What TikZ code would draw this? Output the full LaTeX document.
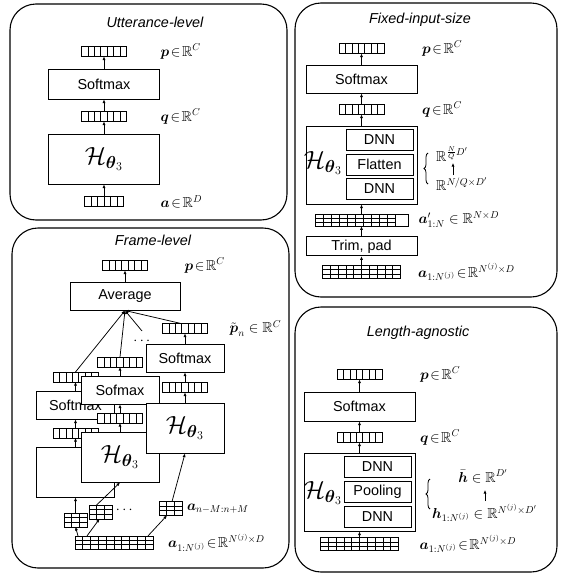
\documentclass[tikz,border=0pt]{standalone}
\usepackage{amsmath,amssymb}
\usepackage[no-math]{fontspec}
\setmainfont{Liberation Sans}
\usetikzlibrary{arrows.meta,positioning,decorations.pathreplacing}
\newcommand{\Hnet}{\mathcal{H}_{\boldsymbol{\theta}_3}}
\tikzset{
  panel/.style={draw, line width=1.1pt, rounded corners=26pt},
  paneltitle/.style={font=\fontsize{14.4}{17}\selectfont\itshape},
  layerbox/.style={draw, fill=white, line width=1pt, inner sep=0pt, minimum width=111pt},
  framebox/.style={layerbox, minimum width=78pt},
  innerbox/.style={draw, fill=white, line width=1pt, inner sep=0pt,
    minimum width=67pt, minimum height=21pt},
  netlabel/.style={font=\fontsize{24}{28}\selectfont, inner sep=0pt},
  cellvec/.style n args={4}{draw, fill=white, line width=0.8pt, inner sep=0pt, outer sep=0pt,
    minimum width=#1*#3, minimum height=#2*#4,
    path picture={
      \foreach \i in {1,...,#1}
        \draw[line width=0.8pt] ([xshift=\i*#3]path picture bounding box.south west)
          -- ([xshift=\i*#3]path picture bounding box.north west);
      \foreach \j in {1,...,#2}
        \draw[line width=0.8pt] ([yshift=\j*#4]path picture bounding box.south west)
          -- ([yshift=\j*#4]path picture bounding box.south east);
    }},
  vec/.style={cellvec={7}{1}{6.4pt}{10pt}},
  shortvec/.style={cellvec={6}{1}{6.5pt}{10pt}},
  seqgrid/.style={cellvec={10}{3}{7.8pt}{4.4pt}},
  wingrid/.style={cellvec={3}{3}{7.6pt}{4.6pt}},
  padgrid/.style={draw, fill=white, line width=0.8pt, inner sep=0pt,
    minimum width=93pt, minimum height=12pt,
    path picture={
      \foreach \i in {1,...,10}
        \draw[line width=0.8pt] ([xshift=\i*8pt]path picture bounding box.south west)
          -- ([xshift=\i*8pt]path picture bounding box.north west);
      \foreach \j in {1,2}
        \draw[line width=0.8pt] ([yshift=\j*4pt]path picture bounding box.south west)
          -- ([xshift=80pt, yshift=\j*4pt]path picture bounding box.south west);
    }},
  arr/.style={-{Latex[length=3.6pt, width=3.2pt]}, line width=0.75pt},
  dimlabel/.style={anchor=west, inner sep=0pt},
  bracket/.style={decorate, decoration={brace, amplitude=4pt}, line width=0.8pt}
}

\begin{document}
\begin{tikzpicture}[x=1pt, y=-1pt, font=\fontsize{14.4}{17}\selectfont]
  \useasboundingbox (0,0) rectangle (568,576);

  % Utterance-level
  \draw[panel] (10,4) rectangle (287,220);
  \node[paneltitle] (t1) at (155,22) {Utterance-level};
  \node[layerbox, minimum height=50pt, netlabel] (H1) at (104,159) {$\Hnet$};
  \node[vec, above=12pt of H1] (q1) {};
  \node[layerbox, minimum height=30pt, above=12pt of q1] (sm1) {Softmax};
  \node[vec, above=12pt of sm1] (p1) {};
  \node[shortvec, below=12pt of H1] (a1) {};
  \draw[arr] (a1) -- (H1);
  \draw[arr] (H1) -- (q1);
  \draw[arr] (q1) -- (sm1);
  \draw[arr] (sm1) -- (p1);
  \node[dimlabel, right=34pt of p1] (p1l) {$\boldsymbol{p}\!\in\!\mathbb{R}^C$};
  \node[dimlabel, right=34pt of q1] (q1l) {$\boldsymbol{q}\!\in\!\mathbb{R}^C$};
  \node[dimlabel, right=37pt of a1] (a1l) {$\boldsymbol{a}\!\in\!\mathbb{R}^D$};

  % Fixed-input-size
  \draw[panel] (295,3) rectangle (557,297);
  \node[paneltitle] (t2) at (420,20) {Fixed-input-size};
  \node[layerbox, minimum height=78pt] (H2) at (361.5,165) {};
  \node[innerbox] (fl2) at (379.5,164.5) {Flatten};
  \node[innerbox, above=2.5pt of fl2] (dnn2a) {DNN};
  \node[innerbox, below=2.5pt of fl2] (dnn2b) {DNN};
  \node[netlabel] (h2) at (323,163) {$\Hnet$};
  \node[vec, above=11pt of H2] (q2) {};
  \node[layerbox, minimum height=28pt, above=11pt of q2] (sm2) {Softmax};
  \node[vec, above=11pt of sm2] (p2) {};
  \node[padgrid, below=9pt of H2] (ap2) {};
  \node[layerbox, minimum height=19pt, below=10pt of ap2] (tp2) {Trim, pad};
  \node[seqgrid, below=9pt of tp2] (a2) {};
  \draw[arr] (a2) -- (tp2);
  \draw[arr] (tp2) -- (ap2);
  \draw[arr] (ap2) -- (H2);
  \draw[arr] (H2) -- (q2);
  \draw[arr] (q2) -- (sm2);
  \draw[arr] (sm2) -- (p2);
  \node[dimlabel, right=38pt of p2] (p2l) {$\boldsymbol{p}\!\in\!\mathbb{R}^C$};
  \node[dimlabel, right=38pt of q2] (q2l) {$\boldsymbol{q}\!\in\!\mathbb{R}^C$};
  \node[dimlabel, right=10pt of ap2] (ap2l) {$\boldsymbol{a}'_{1:N} \in \mathbb{R}^{N\times D}$};
  \node[dimlabel, right=17.5pt of a2] (a2l) {$\boldsymbol{a}_{1:N^{(j)}}\!\in\!\mathbb{R}^{N^{(j)}\times D}$};
  \draw[bracket] (428,184) -- (428,153);
  \node[dimlabel] (r2a) at (436,154) {$\mathbb{R}^{\frac{N}{Q}D'}$};
  \node[dimlabel] (r2b) at (436,184) {$\mathbb{R}^{N/Q\times D'}$};
  \coordinate (lo2) at (453,175);
  \coordinate (up2) at (453,163);
  \draw[arr] (lo2) -- (up2);

  % Frame-level
  \draw[panel] (12,228) rectangle (289,568);
  \node[paneltitle] (t3) at (153,240) {Frame-level};
  \node[framebox, minimum width=110pt, minimum height=28pt] (avg) at (125,296) {Average};
  \node[vec, above=11pt of avg] (p3) {};
  \draw[arr] (avg) -- (p3);
  \node[dimlabel, right=37pt of p3] (p3l) {$\boldsymbol{p}\!\in\!\mathbb{R}^C$};

  \node[framebox, minimum height=50pt] (Hl) at (75.5,472) {};
  \node[vec, above=8.5pt of Hl] (ql) {};
  \node[framebox, minimum height=28pt, above=8.5pt of ql] (sml) {Softmax};
  \node[vec, above=8.5pt of sml] (tvl) {};
  \draw[arr] (Hl) -- (ql);
  \draw[arr] (ql) -- (sml);
  \draw[arr] (sml) -- (tvl);

  \node[framebox, minimum height=50pt, netlabel] (Hm) at (120,457) {$\Hnet$};
  \node[vec, above=8.5pt of Hm] (qm) {};
  \node[framebox, minimum height=28pt, above=8.5pt of qm] (smm) {Sofmax};
  \node[vec, above=8.5pt of smm] (tvm) {};
  \draw[arr] (Hm) -- (qm);
  \draw[arr] (qm) -- (smm);
  \draw[arr] (smm) -- (tvm);

  \node[framebox, minimum height=50pt, netlabel] (Hr) at (185,428) {$\Hnet$};
  \node[vec, above=10pt of Hr] (qr) {};
  \node[framebox, minimum height=28pt, above=10pt of qr] (smr) {Softmax};
  \node[vec, above=10pt of smr] (tvr) {};
  \draw[arr] (Hr) -- (qr);
  \draw[arr] (qr) -- (smr);
  \draw[arr] (smr) -- (tvr);
  \node[dimlabel, right=22pt of tvr] (tvrl) {$\tilde{\boldsymbol{p}}_n \in \mathbb{R}^C$};

  \coordinate (dotsend) at (142,331);
  \node (dots3b) at (143,341) {$\cdots$};
  \draw[arr] (tvl.north) -- (avg.south);
  \draw[arr] (tvm.north) -- (avg.south);
  \draw[arr] (dotsend) -- (avg.south);
  \draw[arr] ([xshift=-4pt]tvr.north) -- (avg.south);

  \node[seqgrid] (seq3) at (114,542.5) {};
  \node[wingrid] (wl) at (75.5,520) {};
  \node[wingrid] (wm) at (100.5,512) {};
  \node[wingrid] (wr) at (170.5,508.5) {};
  \node (dots3) at (125.5,510) {$\cdots$};
  \draw[arr] ([xshift=3pt]seq3.north west) -- (wl.south);
  \draw[arr] ([xshift=12pt]seq3.north west) -- ([xshift=-1pt]wm.south);
  \draw[arr] ([xshift=-5pt]seq3.north east) -- ([xshift=-3.5pt]wr.south);
  \draw[arr] (wl) -- (Hl);
  \draw[arr] ([xshift=-4pt]wm.north) -- (Hm.south);
  \draw[arr] ([xshift=1.5pt]wr.north) -- (Hr.south);
  \node[dimlabel, right=5pt of wr] (wrl) {$\boldsymbol{a}_{n-M:n+M}$};
  \node[dimlabel, right=15pt of seq3] (seq3l) {$\boldsymbol{a}_{1:N^{(j)}}\!\in\!\mathbb{R}^{N^{(j)}\times D}$};

  % Length-agnostic
  \draw[panel] (295,307) rectangle (557,572);
  \node[paneltitle] (t4) at (418,333) {Length-agnostic};
  \node[layerbox, minimum height=78pt] (H4) at (359.5,492) {};
  \node[innerbox] (pl4) at (377.5,492) {Pooling};
  \node[innerbox, above=3pt of pl4] (dnn4a) {DNN};
  \node[innerbox, below=3pt of pl4] (dnn4b) {DNN};
  \node[netlabel] (h4) at (323,493) {$\Hnet$};
  \node[vec, above=10pt of H4] (q4) {};
  \node[layerbox, minimum height=29pt, above=11pt of q4] (sm4) {Softmax};
  \node[vec, above=12pt of sm4] (p4) {};
  \node[seqgrid, below=6pt of H4] (a4) {};
  \draw[arr] (a4) -- (H4);
  \draw[arr] (H4) -- (q4);
  \draw[arr] (q4) -- (sm4);
  \draw[arr] (sm4) -- (p4);
  \node[dimlabel, right=38pt of p4] (p4l) {$\boldsymbol{p}\!\in\!\mathbb{R}^C$};
  \node[dimlabel, right=38pt of q4] (q4l) {$\boldsymbol{q}\!\in\!\mathbb{R}^C$};
  \node[dimlabel, right=21pt of a4] (a4l) {$\boldsymbol{a}_{1:N^{(j)}}\!\in\!\mathbb{R}^{N^{(j)}\times D}$};
  \draw[bracket] (430,509) -- (430,479);
  \node[inner sep=0pt] (hb4) at (483,476) {$\bar{\boldsymbol{h}} \in \mathbb{R}^{D'}$};
  \node[dimlabel] (h4l) at (432,513) {$\boldsymbol{h}_{1:N^{(j)}} \in \mathbb{R}^{N^{(j)}\times D'}$};
  \coordinate (lo4) at (485,501);
  \coordinate (up4) at (485,490);
  \draw[arr] (lo4) -- (up4);
\end{tikzpicture}
\end{document}
